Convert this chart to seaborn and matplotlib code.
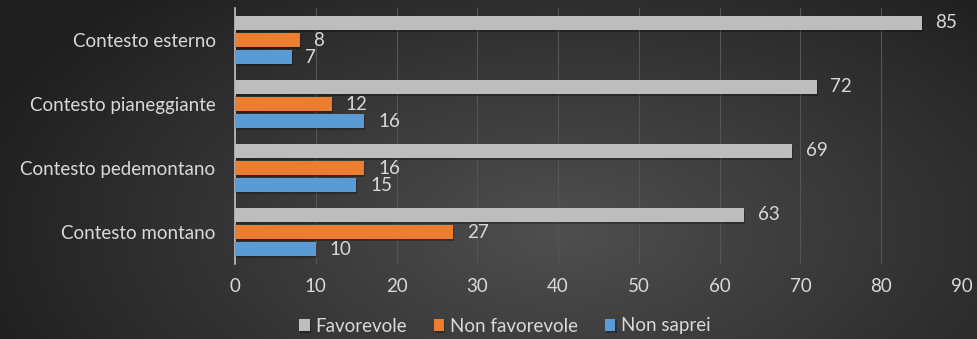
import numpy as np
import pandas as pd
import matplotlib
matplotlib.use("Agg")
import matplotlib.pyplot as plt
import matplotlib.patheffects as pe
import seaborn as sns

# Survey results by context (percent)
categories = ["Contesto esterno", "Contesto pianeggiante", "Contesto pedemontano", "Contesto montano"]
series = ["Favorevole", "Non favorevole", "Non saprei"]
favorevole = [85, 72, 69, 63]
non_favorevole = [8, 12, 16, 27]
non_saprei = [7, 16, 15, 10]
x_ticks = [0, 10, 20, 30, 40, 50, 60, 70, 80, 90]

df = pd.DataFrame({
    "categoria": categories * 3,
    "risposta": [series[0]] * 4 + [series[1]] * 4 + [series[2]] * 4,
    "valore": favorevole + non_favorevole + non_saprei,
})

palette = {"Favorevole": "#BDBDBD", "Non favorevole": "#ED7D31", "Non saprei": "#5B9BD5"}
text_color = "#D9D9D9"

sns.set_theme(style="white")
plt.rcParams["font.family"] = ["Lato", "DejaVu Sans"]

fig = plt.figure(figsize=(9.77, 3.39), dpi=100)

# Dark radial backdrop
bg = fig.add_axes([0, 0, 1, 1], zorder=-10)
h, w = 339, 977
yy, xx = np.mgrid[0:h, 0:w]
cx, cy = 560, 230
r = np.sqrt(((xx - cx) / 620.0) ** 2 + ((yy - cy) / 330.0) ** 2)
r = np.clip(r, 0, 1)
shade = 0.31 - 0.19 * r
img = np.dstack([shade, shade, shade])
bg.imshow(img, aspect="auto", extent=[0, 1, 0, 1], interpolation="bilinear")
bg.set_axis_off()

ax = fig.add_axes([235 / 977, 1 - 264 / 339, (962 - 235) / 977, (264 - 8) / 339])
ax.set_facecolor("none")

sns.barplot(data=df, y="categoria", x="valore", hue="risposta",
            order=categories, hue_order=series, palette=palette,
            orient="h", width=0.8, gap=0.2, saturation=1, ax=ax,
            linewidth=0, edgecolor="none", legend=True, zorder=3)

# soft drop shadow under each bar
for patch in ax.patches:
    patch.set_path_effects([pe.SimplePatchShadow(offset=(0.8, -1.6), alpha=0.28, shadow_rgbFace="black"),
                            pe.Normal()])

for cont in ax.containers:
    ax.bar_label(cont, padding=10, color=text_color, fontsize=13.5)

ax.set_xlim(0, 90)
ax.set_xticks(x_ticks)
ax.set_xticklabels([str(t) for t in x_ticks], color=text_color, fontsize=13.5)
ax.tick_params(axis="x", length=0, pad=10)
ax.tick_params(axis="y", length=0, pad=14, labelcolor=text_color, labelsize=13.5)
ax.set_xlabel("")
ax.set_ylabel("")
ax.grid(axis="x", color="#555555", linewidth=0.8, zorder=0)
ax.set_axisbelow(True)
for s in ["top", "right", "bottom"]:
    ax.spines[s].set_visible(False)
ax.spines["left"].set_color("#BFBFBF")
ax.spines["left"].set_linewidth(1.2)

handles, labels = ax.get_legend_handles_labels()
leg = ax.legend(handles, labels, loc="center", bbox_to_anchor=(505 / 977, 13 / 339),
                bbox_transform=fig.transFigure, ncol=3, frameon=False, fontsize=13.5,
                handlelength=0.55, handleheight=0.55, handletextpad=0.3, columnspacing=1.45,
                labelcolor=text_color)
for hnd in leg.legend_handles:
    hnd.set_edgecolor("none")

fig.savefig("out.png", dpi=100)
